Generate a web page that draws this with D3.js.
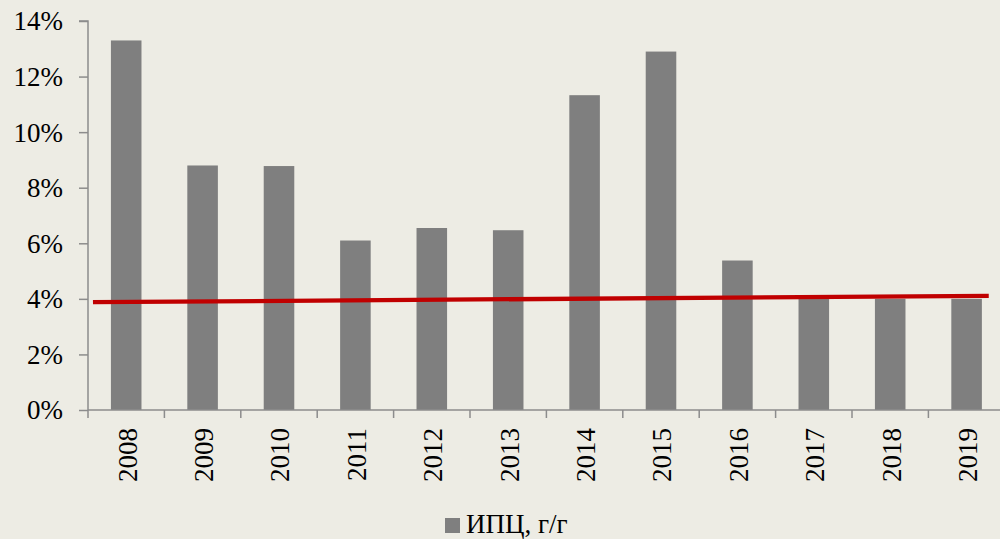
<!DOCTYPE html>
<html><head><meta charset="utf-8">
<script src="https://cdn.jsdelivr.net/npm/d3@7/dist/d3.min.js"></script>
<style>
html,body{margin:0;padding:0;background:#edece4;}
svg{display:block;}
text{font-family:"Liberation Serif","Times New Roman",serif;fill:#000;}
</style></head>
<body>
<svg id="chart" width="1000" height="539"></svg>
<script>
const years = ["2008","2009","2010","2011","2012","2013","2014","2015","2016","2017","2018","2019"];
const cpiValues = [13.3, 8.8, 8.78, 6.1, 6.55, 6.47, 11.33, 12.9, 5.38, 4.05, 4.0, 4.0];
const trendPos = [-0.435, 11.29];
const trendValues = [3.88, 4.11];
const yTicks = [0, 2, 4, 6, 8, 10, 12, 14];
const legendLabel = "ИПЦ, г/г";

(function () {
const svg = d3.select("#chart");
const mLeft = 88, mTop = 21, mBottom = 410, step = 76.4;
const x = d3.scaleBand().domain(years).range([mLeft, mLeft + step * years.length]).paddingInner(0.6).paddingOuter(0.3);
const y = d3.scaleLinear().domain([0, 14]).range([mBottom, mTop]);
const xi = d3.scaleLinear().domain([-0.5, years.length - 0.5]).range([mLeft, mLeft + step * years.length]);

const axisColor = "#8c8c8c";

svg.append("g").selectAll("rect").data(years).join("rect")
  .attr("x", d => x(d))
  .attr("width", x.bandwidth())
  .attr("y", (d, i) => y(cpiValues[i]))
  .attr("height", (d, i) => mBottom - y(cpiValues[i]))
  .attr("fill", "#7f7f7f");

const yAxis = svg.append("g").attr("transform", `translate(${mLeft},0)`)
  .call(d3.axisLeft(y).tickValues(yTicks).tickFormat(d => d + "%").tickSize(9).tickPadding(16));
yAxis.select(".domain").attr("stroke", axisColor).attr("stroke-width", 1.5).attr("d", `M-9,${mTop}H0V${mBottom}`);
yAxis.selectAll(".tick line").attr("stroke", axisColor).attr("stroke-width", 1.5);
yAxis.selectAll("text").attr("font-size", 27).attr("dy", "0.33em").style("font-family", '"Liberation Serif", serif');

const xAxis = svg.append("g").attr("transform", `translate(0,${mBottom})`);
xAxis.append("line").attr("x1", mLeft).attr("x2", 1000).attr("y1", 0).attr("y2", 0)
  .attr("stroke", axisColor).attr("stroke-width", 1.5);
xAxis.selectAll("line.tk").data(years).join("line").attr("class", "tk")
  .attr("x1", (d, i) => xi(i - 0.5)).attr("x2", (d, i) => xi(i - 0.5))
  .attr("y1", 0).attr("y2", 8).attr("stroke", axisColor).attr("stroke-width", 1.5);
xAxis.selectAll("text").data(years).join("text")
  .attr("transform", d => `translate(${x(d) + x.bandwidth() / 2 + 1},18) rotate(-90)`)
  .attr("text-anchor", "end").attr("dy", "0.35em").attr("font-size", 27)
  .text(d => d);

const line = d3.line().x((d, i) => xi(trendPos[i])).y(d => y(d));
svg.append("path").datum(trendValues).attr("d", line)
  .attr("fill", "none").attr("stroke", "#c00000").attr("stroke-width", 4.3);

const lg = svg.append("g");
lg.append("rect").attr("x", 445).attr("y", 518).attr("width", 15).attr("height", 15).attr("fill", "#7f7f7f");
lg.append("text").attr("x", 466).attr("y", 533).attr("font-size", 27).text(legendLabel);
})();
</script>
</body></html>
